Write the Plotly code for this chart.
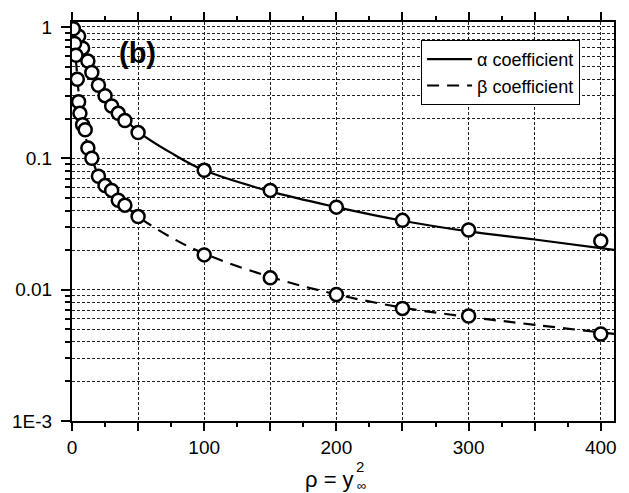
import plotly.graph_objects as go

# ---- data ----
alpha_rho = [1, 5, 8, 12, 15, 20, 25, 30, 35, 40, 50, 100, 150, 200, 250, 300, 400]
alpha_val = [0.96, 0.85, 0.69, 0.55, 0.45, 0.36, 0.30, 0.25, 0.22, 0.194, 0.157,
             0.081, 0.057, 0.0425, 0.0337, 0.0285, 0.0235]

beta_rho = [1, 2, 3, 4, 5, 6, 8, 10, 12, 15, 20, 25, 30, 35, 40, 50,
            100, 150, 200, 250, 300, 400]
beta_val = [0.97, 0.75, 0.61, 0.40, 0.27, 0.22, 0.18, 0.165, 0.12, 0.10, 0.073, 0.062,
            0.057, 0.048, 0.044, 0.036, 0.0184, 0.0123, 0.0092, 0.0072, 0.0063, 0.0046]

alpha_fit_rho = [1, 5, 10, 20, 30, 40, 50, 75, 100, 150, 200, 250, 300, 350, 410]
alpha_fit_val = [0.95, 0.78, 0.60, 0.37, 0.26, 0.20, 0.16, 0.11, 0.081, 0.056,
                 0.0425, 0.0335, 0.0278, 0.0241, 0.0201]

beta_fit_rho = [1, 3, 5, 10, 15, 20, 30, 40, 50, 75, 100, 150, 200, 250, 300, 350, 410]
beta_fit_val = [0.80, 0.55, 0.32, 0.15, 0.10, 0.075, 0.055, 0.044, 0.036, 0.025,
                0.0188, 0.0125, 0.0092, 0.0073, 0.0062, 0.0054, 0.0046]

x_tickvals = [0, 50, 100, 150, 200, 250, 300, 350, 400]
x_ticktext = ["0", "", "100", "", "200", "", "300", "", "400"]
x_minor = [25, 75, 125, 175, 225, 275, 325, 375]

y_tickvals = [0.001, 0.01, 0.1, 1]
y_ticktext = ["1E-3", "0.01", "0.1", "1"]
y_minor = [m * d for d in (0.001, 0.01, 0.1) for m in range(2, 10)]

legend_names = ["\u03b1 coefficient", "\u03b2 coefficient"]

FONT = "Liberation Sans, Arial, sans-serif"

fig = go.Figure()
fig.add_trace(go.Scatter(x=alpha_fit_rho, y=alpha_fit_val, mode="lines",
                         line=dict(color="black", width=2.2, shape="spline"),
                         name=legend_names[0]))
fig.add_trace(go.Scatter(x=beta_fit_rho, y=beta_fit_val, mode="lines",
                         line=dict(color="black", width=2.2, shape="spline", dash="12px,8px"),
                         name=legend_names[1]))
for xs, ys in ((alpha_rho, alpha_val), (beta_rho, beta_val)):
    fig.add_trace(go.Scatter(x=xs, y=ys, mode="markers", showlegend=False,
                             marker=dict(symbol="circle", size=13, color="white",
                                         line=dict(color="black", width=2.5))))

grid_color = "#222"
fig.update_xaxes(range=[0, 410], tickmode="array", tickvals=x_tickvals, ticktext=x_ticktext,
                 ticks="outside", ticklen=8, tickwidth=1.5, tickcolor="black",
                 showline=True, linecolor="black", linewidth=2, mirror="ticks",
                 showgrid=True, gridcolor=grid_color, gridwidth=1, griddash="3px,2px",
                 zeroline=False,
                 minor=dict(tickvals=x_minor, ticks="outside", ticklen=4, tickwidth=1.5,
                            tickcolor="black", showgrid=False),
                 tickfont=dict(size=19, color="black", family=FONT))
fig.update_yaxes(type="log", range=[-3, 0.038], tickmode="array", tickvals=y_tickvals,
                 ticktext=y_ticktext,
                 ticks="outside", ticklen=9, tickwidth=1.5, tickcolor="black",
                 showline=True, linecolor="black", linewidth=2, mirror=True,
                 showgrid=True, gridcolor=grid_color, gridwidth=1, griddash="3px,2px",
                 zeroline=False, ticklabelstandoff=5,
                 minor=dict(tickvals=y_minor, ticks="outside", ticklen=5, tickwidth=1.5,
                            tickcolor="black", showgrid=True, gridcolor=grid_color,
                            gridwidth=1, griddash="3px,2px"),
                 tickfont=dict(size=19, color="black", family=FONT))

annots = [
    dict(text="<b>(b)</b>", x=(138 - 72) / 545, y=1 - (51 - 20) / 401,
         xref="paper", yref="paper", xanchor="center", yanchor="middle",
         showarrow=False, font=dict(size=29, color="black", family=FONT)),
    dict(text="\u03c1 = y", x=(331 - 72) / 545, y=0, xref="paper", yref="paper",
         yanchor="middle", yshift=-58, showarrow=False,
         font=dict(size=22, color="black", family=FONT)),
    dict(text="2", x=(362 - 72) / 545, y=0, xref="paper", yref="paper",
         yanchor="middle", yshift=-45, showarrow=False,
         font=dict(size=15, color="black", family=FONT)),
    dict(text="\u221e", x=(363 - 72) / 545, y=0, xref="paper", yref="paper",
         yanchor="middle", yshift=-64, showarrow=False,
         font=dict(size=13, color="black", family=FONT)),
]

fig.update_layout(
    width=629, height=493,
    margin=dict(l=72, r=12, t=20, b=72),
    paper_bgcolor="white", plot_bgcolor="white",
    font=dict(family=FONT, color="black", size=18),
    showlegend=True,
    legend=dict(x=(423 - 72) / 545, y=1 - (38 - 20) / 401, xanchor="left", yanchor="top",
                bgcolor="white", bordercolor="black", borderwidth=1,
                font=dict(size=18, color="black", family=FONT),
                tracegroupgap=0, itemwidth=45),
    annotations=annots,
)

fig.write_html("out.html", config={"displayModeBar": False},
               post_script="document.body.style.margin='0';document.body.style.overflow='hidden';")
